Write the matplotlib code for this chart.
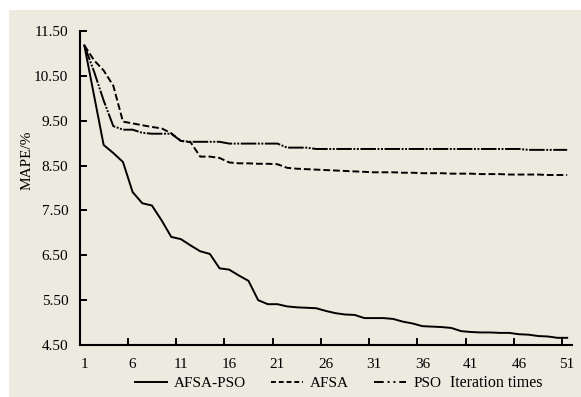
import numpy as np
import matplotlib
matplotlib.use("Agg")
import matplotlib.pyplot as plt
from matplotlib.patches import Rectangle
from matplotlib.lines import Line2D

# iteration index 1..51
iters = np.arange(1, 52)

afsa_pso = [11.18, 10.07, 8.96, 8.78, 8.58, 7.91, 7.66, 7.61, 7.28, 6.91,
            6.86, 6.72, 6.59, 6.53, 6.21, 6.18, 6.05, 5.93, 5.50, 5.41,
            5.41, 5.36, 5.34, 5.33, 5.32, 5.26, 5.21, 5.18, 5.17, 5.10,
            5.10, 5.10, 5.08, 5.02, 4.98, 4.92, 4.91, 4.90, 4.88, 4.81,
            4.79, 4.78, 4.78, 4.77, 4.77, 4.74, 4.73, 4.70, 4.69, 4.66,
            4.66]

afsa = [11.18, 10.85, 10.62, 10.28, 9.48, 9.44, 9.40, 9.36, 9.33, 9.22,
        9.05, 9.02, 8.70, 8.70, 8.67, 8.57, 8.55, 8.55, 8.54, 8.54,
        8.53, 8.45, 8.43, 8.42, 8.41, 8.40, 8.39, 8.38, 8.37, 8.36,
        8.35, 8.35, 8.35, 8.34, 8.34, 8.33, 8.33, 8.33, 8.32, 8.32,
        8.32, 8.31, 8.31, 8.31, 8.30, 8.30, 8.30, 8.30, 8.29, 8.29,
        8.29]

pso = [11.18, 10.60, 9.95, 9.38, 9.30, 9.30, 9.23, 9.21, 9.21, 9.21,
       9.05, 9.03, 9.03, 9.03, 9.03, 8.99, 8.99, 8.99, 8.99, 8.99,
       8.99, 8.90, 8.90, 8.90, 8.87, 8.87, 8.87, 8.87, 8.87, 8.87,
       8.87, 8.87, 8.87, 8.87, 8.87, 8.87, 8.87, 8.87, 8.87, 8.87,
       8.87, 8.87, 8.87, 8.87, 8.87, 8.87, 8.85, 8.85, 8.85, 8.85,
       8.85]

yticks = [4.5, 5.5, 6.5, 7.5, 8.5, 9.5, 10.5, 11.5]
xlabels = [1, 6, 11, 16, 21, 26, 31, 36, 41, 46, 51]

plt.rcParams['font.family'] = ['Liberation Serif', 'DejaVu Serif']
plt.rcParams['font.size'] = 11

W, H = 581, 397
fig = plt.figure(figsize=(W / 100, H / 100), dpi=100, facecolor='white')
bg = '#edeae0'
fig.patches.append(Rectangle((9 / W, 0), 1, 1 - 10 / H, transform=fig.transFigure,
                             facecolor=bg, edgecolor='none', zorder=-10))

ax = fig.add_axes([79.5 / W, 1 - 345 / H, (572 - 79.5) / W, (345 - 31) / H])
ax.set_facecolor('none')

lw = 1.4
ax.plot(iters, afsa_pso, color='black', lw=lw, label='AFSA-PSO')
ax.plot(iters, afsa, color='black', lw=lw, linestyle=(0, (3.5, 1.5)), label='AFSA')
ax.plot(iters, pso, color='black', lw=lw, linestyle=(0, (8, 0.8, 1, 0.8, 1, 0.8)), label='PSO')

ax.set_xlim(0.5, 51.5)
ax.set_ylim(4.5, 11.5)
ax.set_yticks(yticks)
ax.set_yticklabels(['%.2f' % v for v in yticks])
ax.set_xticks(np.arange(5.5, 51, 5))
ax.set_xticklabels([])
ax.set_xticks(xlabels, minor=True)
ax.set_xticklabels([str(v) for v in xlabels], minor=True)
ax.tick_params(axis='x', which='major', direction='in', length=5, width=1.4)
ax.tick_params(axis='x', which='minor', length=0, pad=9)
ax.tick_params(axis='y', direction='in', length=5, width=1.4, pad=8)

for s in ['top', 'right']:
    ax.spines[s].set_visible(False)
for s in ['left', 'bottom']:
    ax.spines[s].set_linewidth(1.5)

fig.text(27 / W, 1 - 160 / H, 'MAPE/%', rotation=90, ha='center', va='center')

handles = [Line2D([], [], color='black', lw=lw),
           Line2D([], [], color='black', lw=lw, linestyle=(0, (2.5, 1.5))),
           Line2D([], [], color='black', lw=lw, linestyle=(0, (5, 2, 1, 2, 1, 2)))]
fig.legend(handles, ['AFSA-PSO', 'AFSA', 'PSO'], loc='center', ncol=3,
           bbox_to_anchor=(288 / W, 1 - 383 / H), frameon=False,
           handlelength=2.1, handletextpad=0.45, columnspacing=1.65)
fig.text(450 / W, 1 - 383 / H, 'Iteration times', ha='left', va='center', fontsize=11.5)

fig.savefig('out.png', dpi=100, facecolor='white')
